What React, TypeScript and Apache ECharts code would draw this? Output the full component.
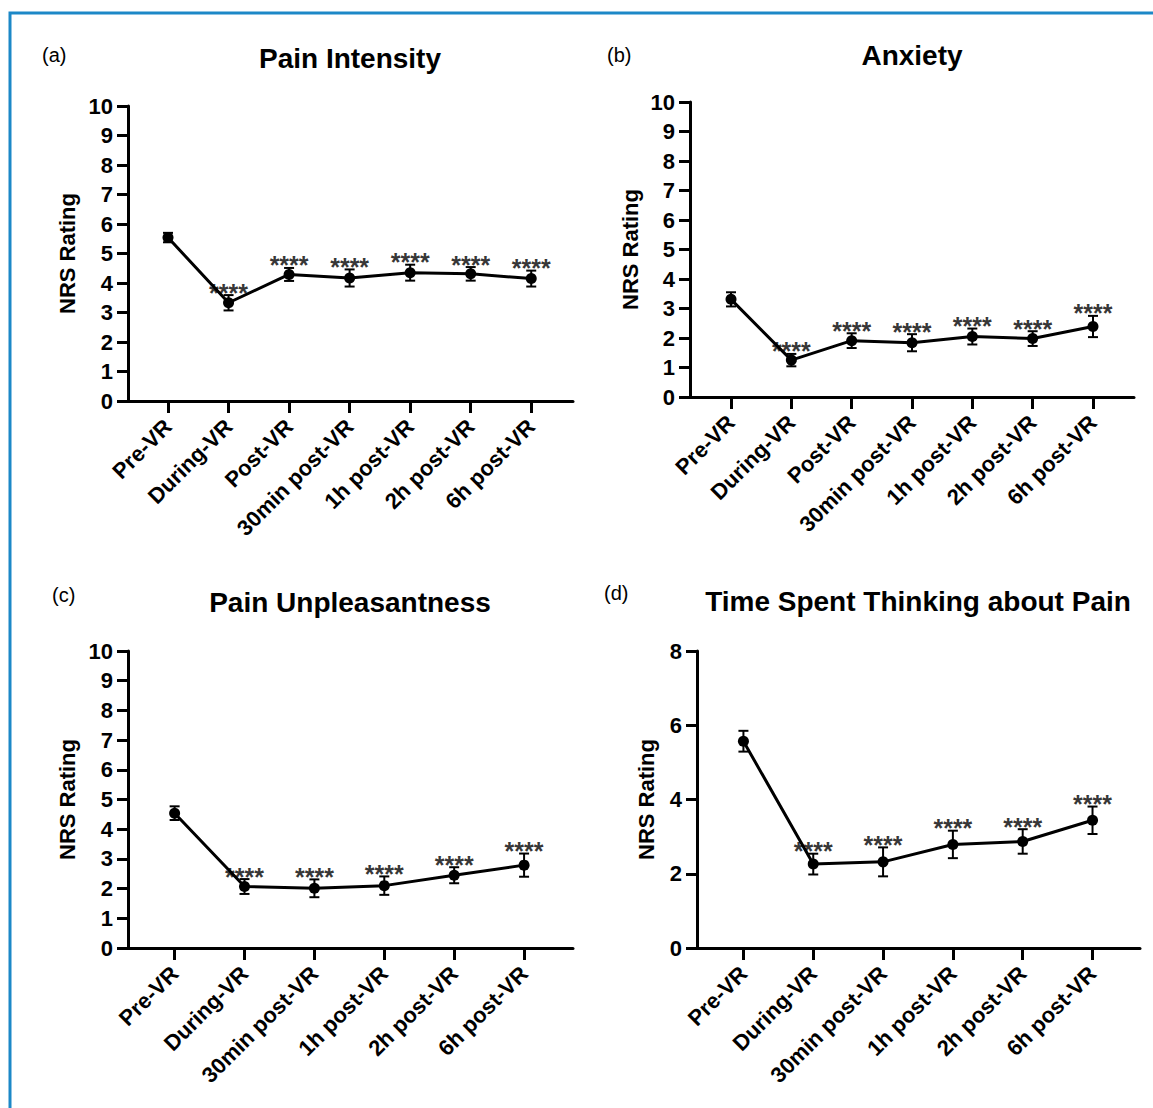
import React, { useEffect, useRef } from "react";
import * as echarts from "echarts";

const categories7 = ["Pre-VR", "During-VR", "Post-VR", "30min post-VR", "1h post-VR", "2h post-VR", "6h post-VR"];
const categories6 = ["Pre-VR", "During-VR", "30min post-VR", "1h post-VR", "2h post-VR", "6h post-VR"];

const painIntensityMean = [5.54, 3.33, 4.29, 4.17, 4.35, 4.31, 4.15];
const painIntensitySem = [0.16, 0.26, 0.22, 0.29, 0.27, 0.23, 0.27];
const painIntensitySig = ["", "****", "****", "****", "****", "****", "****"];

const anxietyMean = [3.31, 1.25, 1.91, 1.84, 2.05, 1.98, 2.39];
const anxietySem = [0.24, 0.21, 0.25, 0.29, 0.27, 0.25, 0.36];
const anxietySig = ["", "****", "****", "****", "****", "****", "****"];

const unpleasantMean = [4.54, 2.07, 2.01, 2.1, 2.45, 2.79];
const unpleasantSem = [0.23, 0.25, 0.3, 0.31, 0.27, 0.39];
const unpleasantSig = ["", "****", "****", "****", "****", "****"];

const thinkingMean = [5.57, 2.26, 2.32, 2.79, 2.87, 3.44];
const thinkingSem = [0.28, 0.28, 0.39, 0.37, 0.33, 0.37];
const thinkingSig = ["", "****", "****", "****", "****", "****"];

const titles = ["Pain Intensity", "Anxiety", "Pain Unpleasantness", "Time Spent Thinking about Pain"];
const panelLetters = ["(a)", "(b)", "(c)", "(d)"];
const yAxisName = "NRS Rating";

const FONT = '"Liberation Sans", Arial, sans-serif';

type Panel = {
  cats: string[];
  mean: number[];
  sem: number[];
  sig: string[];
  grid: { left: number; top: number; width: number; height: number };
  xMin: number;
  xMax: number;
  yMax: number;
  yInterval: number;
  nameGap: number;
  title: string;
  titleX: number;
  titleY: number;
  letter: string;
  letterX: number;
  letterY: number;
};

const panels: Panel[] = [
  {
    cats: categories7, mean: painIntensityMean, sem: painIntensitySem, sig: painIntensitySig,
    grid: { left: 128, top: 106, width: 445, height: 295 },
    xMin: -0.661, xMax: 6.69, yMax: 10, yInterval: 1, nameGap: 50,
    title: titles[0], titleX: 350, titleY: 58, letter: panelLetters[0], letterX: 42, letterY: 55,
  },
  {
    cats: categories7, mean: anxietyMean, sem: anxietySem, sig: anxietySig,
    grid: { left: 690, top: 102, width: 444, height: 295 },
    xMin: -0.68, xMax: 6.68, yMax: 10, yInterval: 1, nameGap: 49,
    title: titles[1], titleX: 912, titleY: 55, letter: panelLetters[1], letterX: 607, letterY: 55,
  },
  {
    cats: categories6, mean: unpleasantMean, sem: unpleasantSem, sig: unpleasantSig,
    grid: { left: 128, top: 651, width: 445, height: 297 },
    xMin: -0.667, xMax: 5.7, yMax: 10, yInterval: 1, nameGap: 50,
    title: titles[2], titleX: 350, titleY: 602, letter: panelLetters[2], letterX: 52, letterY: 595,
  },
  {
    cats: categories6, mean: thinkingMean, sem: thinkingSem, sig: thinkingSig,
    grid: { left: 697, top: 651, width: 443, height: 297 },
    xMin: -0.665, xMax: 5.68, yMax: 8, yInterval: 2, nameGap: 40,
    title: titles[3], titleX: 918, titleY: 601, letter: panelLetters[3], letterX: 604, letterY: 593,
  },
];

function buildOption() {
  const grids: any[] = [];
  const xAxes: any[] = [];
  const yAxes: any[] = [];
  const series: any[] = [];
  const graphics: any[] = [
    {
      type: "rect",
      shape: { x: 10, y: 13, width: 1300, height: 1300 },
      style: { fill: "none", stroke: "#1c88c7", lineWidth: 3 },
      silent: true,
    },
  ];

  panels.forEach((p, k) => {
    grids.push({ ...p.grid, containLabel: false });
    const idx = p.cats.map((_, i) => i);
    xAxes.push({
      type: "value",
      gridIndex: k,
      min: p.xMin,
      max: p.xMax,
      axisLine: { show: true, onZero: false, lineStyle: { color: "#000", width: 3 } },
      axisTick: { show: true, customValues: idx, length: 12, lineStyle: { color: "#000", width: 3 } },
      axisLabel: {
        show: true,
        customValues: idx,
        formatter: (v: number) => p.cats[Math.round(v)] ?? "",
        rotate: 45,
        margin: 22,
        color: "#000",
        fontFamily: FONT,
        fontWeight: "bold",
        fontSize: 22,
      },
      splitLine: { show: false },
    });
    yAxes.push({
      type: "value",
      gridIndex: k,
      min: 0,
      max: p.yMax,
      interval: p.yInterval,
      name: yAxisName,
      nameLocation: "middle",
      nameGap: p.nameGap,
      nameTextStyle: { color: "#000", fontFamily: FONT, fontWeight: "bold", fontSize: 22 },
      axisLine: { show: true, onZero: false, lineStyle: { color: "#000", width: 3 } },
      axisTick: { show: true, length: 11, lineStyle: { color: "#000", width: 3 } },
      axisLabel: { color: "#000", fontFamily: FONT, fontWeight: "bold", fontSize: 22, margin: 15 },
      splitLine: { show: false },
    });

    series.push({
      type: "custom",
      xAxisIndex: k,
      yAxisIndex: k,
      z: 2,
      silent: true,
      data: p.mean.map((m, i) => [i, m, p.sem[i]]),
      encode: { x: 0, y: 1 },
      renderItem: (params: any, api: any) => {
        const x = api.value(0);
        const m = api.value(1);
        const s = api.value(2);
        const top = api.coord([x, m + s]);
        const bot = api.coord([x, m - s]);
        const hw = 5;
        const st = { stroke: "#000", lineWidth: 2 };
        return {
          type: "group",
          children: [
            { type: "line", shape: { x1: top[0], y1: top[1], x2: bot[0], y2: bot[1] }, style: st },
            { type: "line", shape: { x1: top[0] - hw, y1: top[1], x2: top[0] + hw, y2: top[1] }, style: st },
            { type: "line", shape: { x1: bot[0] - hw, y1: bot[1], x2: bot[0] + hw, y2: bot[1] }, style: st },
          ],
        };
      },
    });

    series.push({
      type: "line",
      xAxisIndex: k,
      yAxisIndex: k,
      z: 3,
      data: p.mean.map((m, i) => [i, m]),
      symbol: "circle",
      symbolSize: 11,
      showSymbol: true,
      lineStyle: { color: "#000", width: 3 },
      itemStyle: { color: "#000" },
      silent: true,
    });

    series.push({
      type: "scatter",
      xAxisIndex: k,
      yAxisIndex: k,
      z: 4,
      symbolSize: 0,
      silent: true,
      data: p.mean
        .map((m, i) => ({ value: [i, m + p.sem[i]], sig: p.sig[i] }))
        .filter((d) => d.sig !== ""),
      label: {
        show: true,
        position: "top",
        distance: -10,
        formatter: (d: any) => d.data.sig,
        color: "#000",
        fontFamily: FONT,
        fontWeight: "bold",
        fontSize: 25,
      },
    });

    graphics.push({
      type: "text",
      silent: true,
      style: {
        text: p.title,
        x: p.titleX,
        y: p.titleY,
        align: "center",
        verticalAlign: "middle",
        fill: "#000",
        fontFamily: FONT,
        fontWeight: "bold",
        fontSize: 28,
      },
    });
    graphics.push({
      type: "text",
      silent: true,
      style: {
        text: p.letter,
        x: p.letterX,
        y: p.letterY,
        align: "left",
        verticalAlign: "middle",
        fill: "#000",
        fontFamily: FONT,
        fontSize: 20,
      },
    });
  });

  return {
    animation: false,
    backgroundColor: "#fff",
    grid: grids,
    xAxis: xAxes,
    yAxis: yAxes,
    series,
    graphic: graphics,
  };
}

export default function App() {
  const ref = useRef<HTMLDivElement>(null);
  useEffect(() => {
    if (!ref.current) return;
    const chart = echarts.init(ref.current, undefined, { renderer: "svg" });
    chart.setOption(buildOption());
    return () => chart.dispose();
  }, []);
  return (
    <div
      ref={ref}
      style={{ position: "absolute", left: 0, top: 0, width: 1153, height: 1108, background: "#fff" }}
    />
  );
}
